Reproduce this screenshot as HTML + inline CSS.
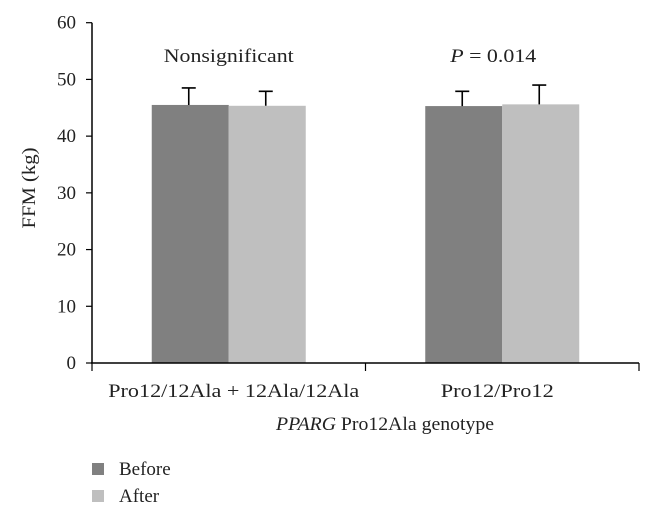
<!DOCTYPE html>
<html><head><meta charset="utf-8"><style>
html,body{margin:0;padding:0;background:#fff;}
svg{display:block;font-family:"Liberation Serif",serif;}
</style></head><body>
<svg id="chart" width="650" height="516"></svg>
<script>
const categories = ["Pro12/12Ala + 12Ala/12Ala", "Pro12/Pro12"];
const beforeValues = [45.5, 45.3];
const afterValues = [45.35, 45.6];
const beforeErr = [3.0, 2.6];
const afterErr = [2.55, 3.4];
const yTicks = [0, 10, 20, 30, 40, 50, 60];
const annotations = ["Nonsignificant", "P = 0.014"];

const NS = "http://www.w3.org/2000/svg";
const svg = document.getElementById("chart");
const x0 = 92, x1 = 639, yZero = 363, yTop = 22.7, yMax = 60;
const y = v => yZero - (yZero - yTop) * v / yMax;
const groupW = (x1 - x0) / categories.length;
const barW = 77;
const labelW = [251, 113];
const annoW = [130, 86];
const annoDx = [0, -9];
function mk(tag, attrs, text) {
  const e = document.createElementNS(NS, tag);
  for (const k in attrs) e.setAttribute(k, attrs[k]);
  if (text !== undefined) e.textContent = text;
  svg.appendChild(e);
  return e;
}
let e;
e = mk("line", {x1: x0, y1: yTop, x2: x0, y2: yZero, stroke: "#000", "stroke-width": 1.5});


yTicks.forEach(t => {
  e = mk("line", {x1: x0 - 6, y1: y(t), x2: x0, y2: y(t), stroke: "#000", "stroke-width": 1.2});
  
  
  e = mk("text", {x: 76, y: y(t) + 6, "text-anchor": "end", "font-size": 19, fill: "#222"}, t);
  
  
});
function bar(xl, v, err, color, name) {
  e = mk("rect", {x: xl, y: y(v), width: barW, height: yZero - y(v), fill: color});
  
  
  const cx = xl + barW / 2 - 1.5;
  e = mk("path", {d: `M${cx},${y(v)}V${y(v + err)}M${cx - 7},${y(v + err)}H${cx + 7}`, stroke: "#000", "stroke-width": 1.6, fill: "none"});
  
  
}
categories.forEach((c, i) => {
  const gc = x0 + groupW * (i + 0.5);
  bar(gc - barW, beforeValues[i], beforeErr[i], "#808080", "bar-before-" + (i + 1));
  bar(gc, afterValues[i], afterErr[i], "#bfbfbf", "bar-after-" + (i + 1));
  e = mk("text", {x: gc - labelW[i] / 2 + (i ? -5 : 5), y: 397, "font-size": 19, fill: "#222", textLength: labelW[i], lengthAdjust: "spacingAndGlyphs"}, c);
  
  
  const a = mk("text", {x: gc + annoDx[i] - annoW[i] / 2, y: 62, "font-size": 19, fill: "#222", textLength: annoW[i], lengthAdjust: "spacingAndGlyphs"});
  
  
  const txt = annotations[i];
  if (txt.startsWith("P ")) {
    const s = document.createElementNS(NS, "tspan");
    s.setAttribute("font-style", "italic"); s.textContent = "P";
    a.appendChild(s);
    a.appendChild(document.createTextNode(txt.slice(1)));
  } else a.textContent = txt;
});
e = mk("line", {x1: x0 - 1, y1: yZero, x2: x1, y2: yZero, stroke: "#000", "stroke-width": 1.5});


for (let i = 0; i <= categories.length; i++) {
  e = mk("line", {x1: x0 + groupW * i, y1: yZero, x2: x0 + groupW * i, y2: yZero + 8, stroke: "#000", "stroke-width": 1.2});
  
  
}
const xt = mk("text", {x: 276, y: 430, "font-size": 19, fill: "#222", textLength: 218, lengthAdjust: "spacingAndGlyphs"});


const it = document.createElementNS(NS, "tspan"); it.setAttribute("font-style", "italic"); it.textContent = "PPARG";
xt.appendChild(it); xt.appendChild(document.createTextNode(" Pro12Ala genotype"));
e = mk("text", {x: 0, y: 0, transform: "translate(35,188) rotate(-90)", "text-anchor": "middle", "font-size": 19, fill: "#222", textLength: 81, lengthAdjust: "spacingAndGlyphs"}, "FFM (kg)");


[["Before", "#808080", 475], ["After", "#bfbfbf", 502]].forEach(([l, c, yy]) => {
  e = mk("rect", {x: 92, y: yy - 12, width: 12, height: 12, fill: c});
  
  
  e = mk("text", {x: 119, y: yy, "font-size": 19, fill: "#222"}, l);
  
  
});
</script>
</body></html>
